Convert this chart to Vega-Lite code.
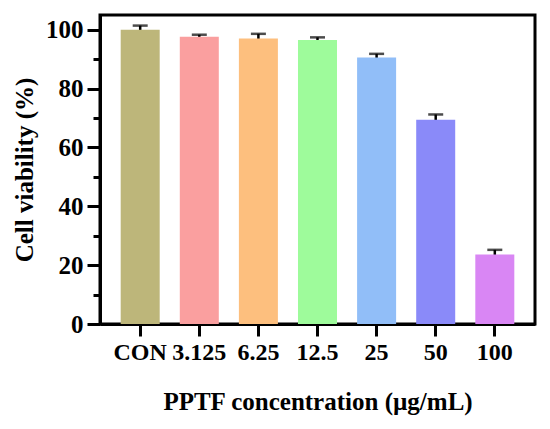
{
  "$schema": "https://vega.github.io/schema/vega-lite/v6.json",
  "width": 435,
  "height": 309,
  "autosize": {"type": "none"},
  "padding": {"left": 100, "top": 15, "right": 15, "bottom": 105},
  "config": {
    "font": "Times New Roman, Liberation Serif, serif",
    "view": {"stroke": "black", "strokeWidth": 3},
    "axis": {
      "domainColor": "black",
      "domainWidth": 3,
      "tickColor": "black",
      "tickWidth": 3,
      "grid": false,
      "labelFont": "Times New Roman, Liberation Serif, serif",
      "titleFont": "Times New Roman, Liberation Serif, serif",
      "labelColor": "black",
      "labelFontWeight": "bold",
      "titleColor": "black",
      "titleFontWeight": "bold"
    }
  },
  "data": {
    "values": [
      {"conc": "CON", "viability": 100.0, "sd": 1.4},
      {"conc": "3.125", "viability": 97.6, "sd": 0.7},
      {"conc": "6.25", "viability": 97.0, "sd": 1.6},
      {"conc": "12.5", "viability": 96.5, "sd": 0.9},
      {"conc": "25", "viability": 90.6, "sd": 1.2},
      {"conc": "50", "viability": 69.4, "sd": 1.8},
      {"conc": "100", "viability": 23.6, "sd": 1.6}
    ]
  },
  "encoding": {
    "x": {
      "field": "conc",
      "type": "nominal",
      "sort": null,
      "scale": {"paddingInner": 0.34, "paddingOuter": 0.35},
      "axis": {
        "title": "PPTF concentration (µg/mL)",
        "labelAngle": 0,
        "labelFontSize": 24,
        "labelPadding": 4,
        "tickSize": 12,
        "titleFontSize": 25,
        "titlePadding": 25
      }
    }
  },
  "layer": [
    {
      "mark": {
        "type": "errorbar",
        "color": "black",
        "thickness": 2.5,
        "ticks": {"size": 15, "thickness": 2.5, "color": "black"}
      },
      "encoding": {
        "y": {
          "field": "viability",
          "type": "quantitative",
          "scale": {"domain": [0, 105], "nice": false},
          "axis": {
            "orient": "left",
            "values": [10, 30, 50, 70, 90],
            "labels": false,
            "domain": false,
            "tickSize": 7,
            "title": null
          }
        },
        "yError": {"field": "sd"}
      }
    },
    {
      "mark": {"type": "bar"},
      "encoding": {
        "y": {
          "field": "viability",
          "type": "quantitative",
          "scale": {"domain": [0, 105], "nice": false},
          "axis": {
            "orient": "left",
            "title": "Cell viability (%)",
            "values": [0, 20, 40, 60, 80, 100],
            "tickSize": 13,
            "labelFontSize": 25,
            "labelPadding": 4,
            "titleFontSize": 25,
            "titlePadding": 8
          }
        },
        "color": {
          "field": "conc",
          "type": "nominal",
          "sort": null,
          "scale": {
            "domain": ["CON", "3.125", "6.25", "12.5", "25", "50", "100"],
            "range": ["#BDB67A", "#FA9F9F", "#FDBF7E", "#9EFB9B", "#91BEF8", "#8A8AF9", "#D986F4"]
          },
          "legend": null
        }
      }
    }
  ],
  "resolve": {"axis": {"y": "independent"}}
}
